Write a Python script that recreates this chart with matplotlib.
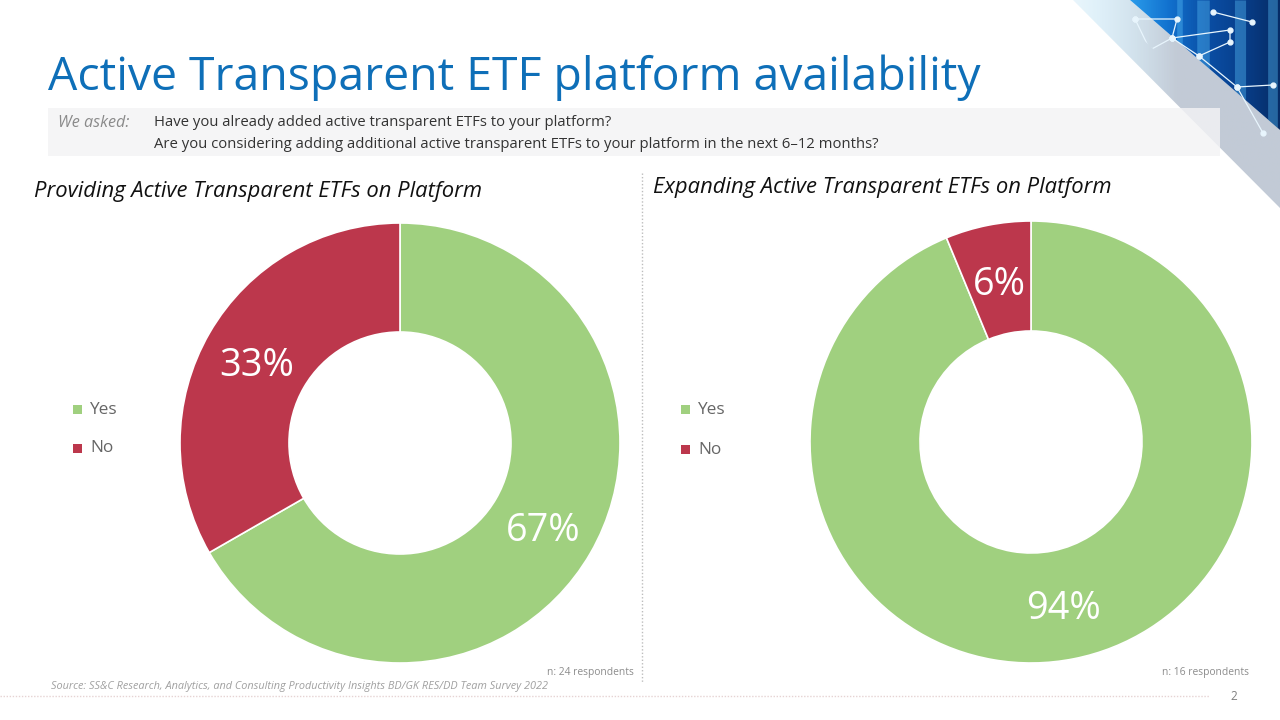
import numpy as np
import matplotlib
matplotlib.use("Agg")
import matplotlib.pyplot as plt
from matplotlib.patches import Polygon, Rectangle
from matplotlib.colors import LinearSegmentedColormap, to_rgb

plt.rcParams['font.family'] = ['Open Sans', 'DejaVu Sans']

labels = ["Yes", "No"]
left_values = [66.7, 33.3]
right_values = [93.75, 6.25]
left_text = ["67%", "33%"]
right_text = ["94%", "6%"]
colors = ["#A0D07F", "#BC374C"]
title = "Active Transparent ETF platform availability"
q1 = "Have you already added active transparent ETFs to your platform?"
q2 = "Are you considering adding additional active transparent ETFs to your platform in the next 6\u201312 months?"
left_title = "Providing Active Transparent ETFs on Platform"
right_title = "Expanding Active Transparent ETFs on Platform"
source = "Source: SS&C Research, Analytics, and Consulting Productivity Insights BD/GK RES/DD Team Survey 2022"
left_n = "n: 24 respondents"
right_n = "n: 16 respondents"

W, H = 1280, 720
fig = plt.figure(figsize=(12.8, 7.2), dpi=100, facecolor="white")
bg = fig.add_axes([0, 0, 1, 1])
bg.set_xlim(0, W); bg.set_ylim(H, 0); bg.axis("off")

# corner decoration: fading grey band
band_clip = Polygon([(1073, 0), (1280, 208), (1280, 130), (1130, 0)], closed=True, transform=bg.transData)
band = np.zeros((1, 128, 4))
t = np.linspace(0, 1, 128)
pale, grey = np.array(to_rgb("#BFE3F5")), np.array(to_rgb("#BFC8D4"))
mix = np.clip((t - 0.1) / 0.4, 0, 1)
band[0, :, :3] = pale[None, :] * (1 - mix[:, None]) + grey[None, :] * mix[:, None]
band[0, :, 3] = np.clip(0.35 + t * 1.2, 0, 0.95)
imb = bg.imshow(band, extent=(1073, 1280, 208, 0), aspect="auto", zorder=1)
imb.set_clip_path(band_clip)

# corner decoration: blue panel
blue_clip = Polygon([(1130, 0), (1280, 130), (1280, 0)], closed=True, transform=bg.transData)
grad = np.linspace(0, 1, 64).reshape(1, -1)
cm = LinearSegmentedColormap.from_list("b", ["#2A9BEA", "#1272CF", "#0A4FA6", "#083F8C", "#062C66"])
im = bg.imshow(grad, extent=(1130, 1280, 130, 0), cmap=cm, aspect="auto", zorder=2)
im.set_clip_path(blue_clip)
for x, w in [(1180, 4), (1203, 9), (1240, 8), (1273, 7)]:
    s, = bg.plot([x, x], [0, 130], color="#56BCF5", lw=w, alpha=0.4, zorder=2, solid_capstyle="butt")
    s.set_clip_path(blue_clip)
net_clip = Polygon([(1100, 0), (1280, 165), (1280, 0)], closed=True, transform=bg.transData)
net_paths = [
    ([1135, 1177, 1172, 1199, 1237, 1263], [19, 19, 38, 56, 87, 133]),
    ([1172, 1230, 1230, 1199], [38, 30, 42, 56]),
    ([1237, 1273], [87, 85]),
    ([1213, 1252], [12, 22]),
    ([1135, 1150, 1172], [19, 50, 38]),
]
for xs, ys in net_paths:
    ln, = bg.plot(xs, ys, color="#E8F5FD", lw=0.9, marker="o", ms=3.5, zorder=3)
    ln.set_clip_path(net_clip)
bg.set_xlim(0, W); bg.set_ylim(H, 0)

# question band
bg.add_patch(Rectangle((48, 108), 1172, 48, fc="#F3F3F5", ec="none", alpha=0.82, zorder=4))

# title and texts
bg.text(48, 78, title, fontsize=33.4, color="#0E6FB8", va="center", ha="left", zorder=5)
bg.text(58, 123, "We asked:", fontsize=11.6, style="italic", color="#8A8A8A", va="center", zorder=5)
bg.text(154, 123, q1, fontsize=10.75, color="#333333", va="center", zorder=5)
bg.text(154, 144, q2, fontsize=10.75, color="#333333", va="center", zorder=5)
bg.text(34, 191, left_title, fontsize=15.8, style="italic", color="#111111", va="center", zorder=5)
bg.text(653, 188, right_title, fontsize=15.8, style="italic", color="#111111", va="center", zorder=5)

# rules
bg.plot([642, 642], [173, 682], color="#BDBDBD", lw=1, ls=(0, (1, 1.5)), zorder=1)
bg.plot([0, 1210], [696, 696], color="#E6D3D3", lw=1, ls=(0, (1, 1.2)), zorder=1)

# footer
bg.text(51, 687, source, fontsize=7.85, style="italic", color="#A0A0A0", va="center", zorder=5)
bg.text(634, 672, left_n, fontsize=7.4, color="#8C8C8C", va="center", ha="right", zorder=5)
bg.text(1249, 672, right_n, fontsize=7.4, color="#8C8C8C", va="center", ha="right", zorder=5)
bg.text(1234, 696, "2", fontsize=8.5, color="#7F7F7F", va="center", ha="center", zorder=5)

def donut(cx, cy, r, inner, values, texts, text_pos, legend_x, legend_ys):
    ax = fig.add_axes([(cx - r) / W, 1 - (cy + r) / H, 2 * r / W, 2 * r / H])
    ax.set_zorder(3)
    ax.pie(values, colors=colors, startangle=90, counterclock=False, radius=1,
           wedgeprops=dict(width=1 - inner / r, edgecolor="white", linewidth=1.2))
    ax.set_xlim(-1, 1); ax.set_ylim(-1, 1)
    ax.patch.set_alpha(0)
    for t_, (x, y) in zip(texts, text_pos):
        bg.text(x, y, t_, color="white", fontsize=27.3, ha="center", va="center", zorder=6)
    bg.set_zorder(4); bg.patch.set_alpha(0)
    for lab, col, y in zip(labels, colors, legend_ys):
        bg.add_patch(Rectangle((legend_x, y - 4.5), 9, 9, fc=col, ec="none", zorder=5))
        bg.text(legend_x + 17, y + 0.5, lab, fontsize=12.4, color="#666666", va="center", zorder=5)

donut(400, 443, 220, 111, left_values, left_text, [(543, 531), (257, 366)], 73, [409, 448])
donut(1031, 442, 221, 111, right_values, right_text, [(1064, 609), (999, 285)], 681, [409, 449])

fig.savefig("out.png", dpi=100)
